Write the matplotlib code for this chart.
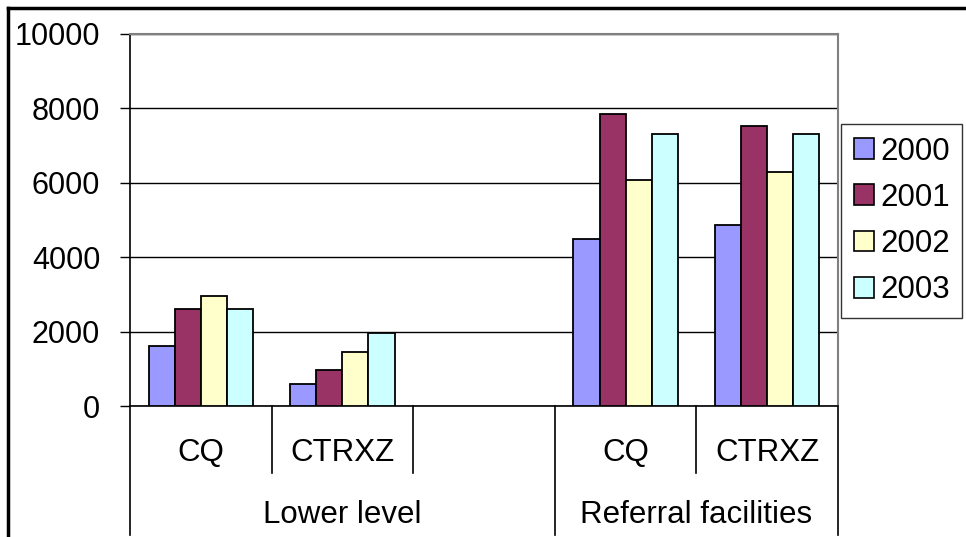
import matplotlib
matplotlib.use("Agg")
import matplotlib.pyplot as plt
from matplotlib.lines import Line2D
from matplotlib.patches import Patch
import numpy as np

plt.rcParams['font.family'] = ['Liberation Sans', 'DejaVu Sans']

years = ['2000', '2001', '2002', '2003']
categories = ['CQ', 'CTRXZ', '', 'CQ', 'CTRXZ']
groups = ['Lower level', 'Referral facilities']
s2000 = [1600, 600, np.nan, 4500, 4870]
s2001 = [2600, 970, np.nan, 7850, 7530]
s2002 = [2950, 1450, np.nan, 6070, 6290]
s2003 = [2600, 1950, np.nan, 7300, 7300]
yticks = [0, 2000, 4000, 6000, 8000, 10000]

series = [s2000, s2001, s2002, s2003]
colors = ['#9999FF', '#993366', '#FFFFCC', '#CCFFFF']

W, H = 966, 537
fig = plt.figure(figsize=(W / 100, H / 100), dpi=100)

FS = 22.5

# plot area in pixels
x0, x1 = 130, 838
ytop, ybot = 34, 406
ax = fig.add_axes([x0 / W, (H - ybot) / H, (x1 - x0) / W, (ybot - ytop) / H])

n = len(categories)
bw = 0.184
centers = np.arange(n) + 0.5
for i, (vals, c) in enumerate(zip(series, colors)):
    xs = centers + (i - 1.5) * bw
    ax.bar(xs, vals, width=bw, color=c, edgecolor='black', linewidth=1.3,
           label=years[i], zorder=3)

ax.set_xlim(0, n)
ax.set_ylim(0, 10000)
ax.set_yticks(yticks)
ax.set_yticklabels([str(v) for v in yticks], fontsize=22)
ax.tick_params(axis='y', length=7.5, width=1, pad=14, direction='out')
ax.set_xticks([])
ax.yaxis.grid(True, color='black', linewidth=1, zorder=0)
ax.set_axisbelow(True)
for side in ['top', 'right']:
    ax.spines[side].set_color('#808080')
    ax.spines[side].set_linewidth(1.5)
ax.spines['left'].set_color('black')
ax.spines['left'].set_linewidth(1.2)
ax.spines['bottom'].set_color('black')
ax.spines['bottom'].set_linewidth(1.2)

trans = ax.get_xaxis_transform()
def py(pix):  # figure pixel y (from top) to axes y fraction
    return (ybot - pix) / (ybot - ytop)

for k in range(n + 1):
    if k in (0, 3, 5):
        yend = py(535)
    else:
        yend = py(473)
    ax.add_line(Line2D([k, k], [0, yend], transform=trans, color='black',
                       linewidth=1.2, clip_on=False))
for k, lab in enumerate(categories):
    if lab:
        ax.text(k + 0.5, py(453), lab, transform=trans, ha='center', va='center',
                fontsize=FS, clip_on=False)
ax.text(1.5, py(515), groups[0], transform=trans, ha='center', va='center',
        fontsize=FS, clip_on=False)
ax.text(4.0, py(515), groups[1], transform=trans, ha='center', va='center',
        fontsize=FS, clip_on=False)

# legend
handles = [Patch(facecolor=c, edgecolor='black', linewidth=1.2, label=y)
           for c, y in zip(colors, years)]
leg = fig.legend(handles=handles, loc='upper left',
                 bbox_to_anchor=(841 / W, (H - 124) / H),
                 fontsize=FS, frameon=True, fancybox=False, edgecolor='black',
                 handlelength=0.65, handleheight=0.65, handletextpad=0.2,
                 labelspacing=0.52, borderpad=0.4, borderaxespad=0)
leg.get_frame().set_linewidth(1.0)

# outer frame (left and top)
fig.add_artist(Line2D([8 / W, 8 / W], [0, (H - 8) / H], transform=fig.transFigure,
                      color='black', linewidth=2.5))
fig.add_artist(Line2D([8 / W, 1], [(H - 8) / H, (H - 8) / H], transform=fig.transFigure,
                      color='black', linewidth=2.5))

fig.savefig('out.png', dpi=100)
